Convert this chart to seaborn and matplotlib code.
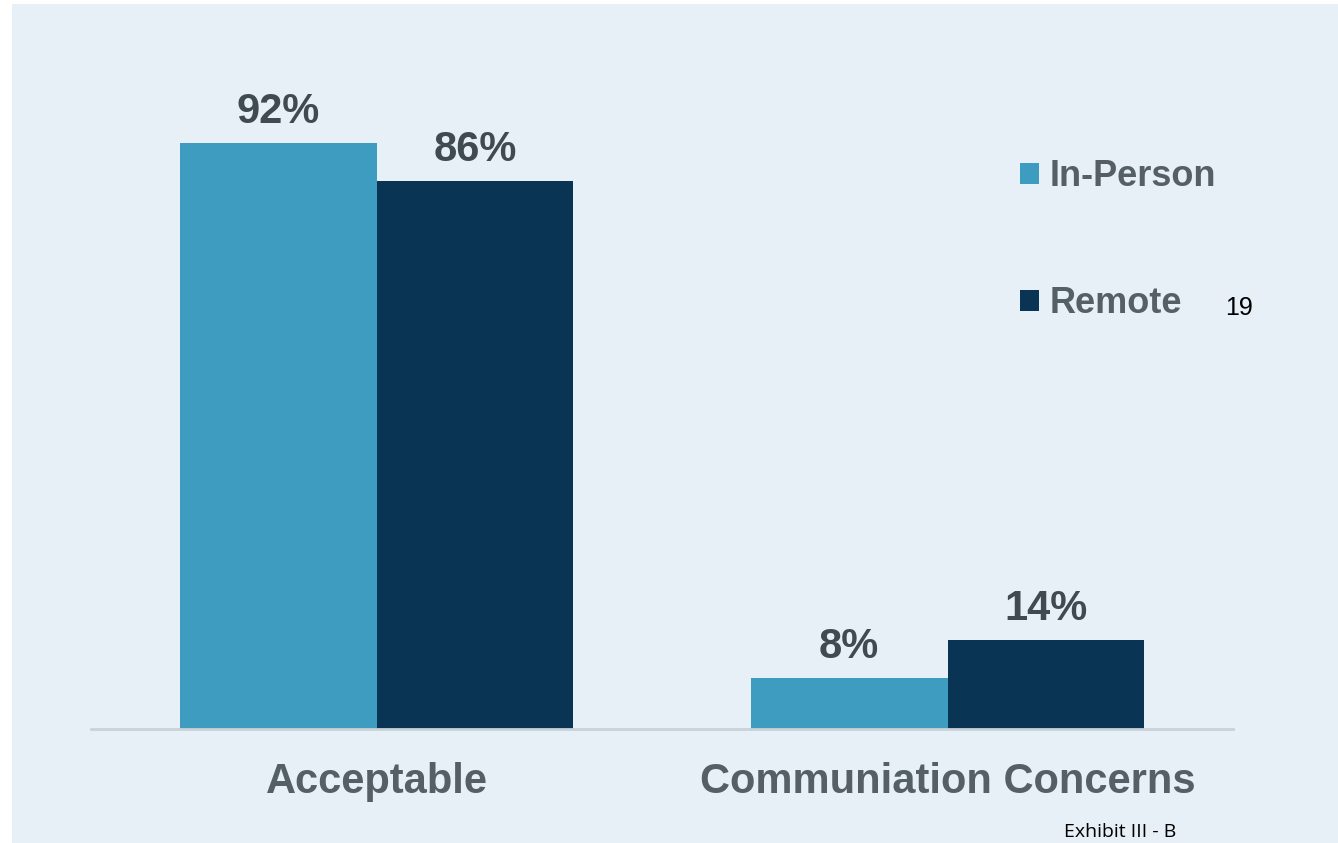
import pandas as pd
import seaborn as sns
import matplotlib.pyplot as plt
from matplotlib.patches import Rectangle

# Values
categories = ['Acceptable', 'Communiation Concerns']
modes = ['In-Person', 'Remote']
in_person = [92, 8]
remote = [86, 14]

df = pd.DataFrame({
    'category': categories * 2,
    'mode': [modes[0]] * 2 + [modes[1]] * 2,
    'value': in_person + remote,
})

colors = {'In-Person': '#3F9CC1', 'Remote': '#093453'}
bg = '#E6F0F6'
tick_color = '#555F66'
label_color = '#404A51'

plt.rcParams['font.family'] = ['Liberation Sans', 'DejaVu Sans']

fig = plt.figure(figsize=(13.38, 8.43), dpi=100, facecolor='white')
# light blue panel behind everything (slight white margin top/left)
fig.patches.append(Rectangle((12 / 1338, 0), 1, 1 - 4 / 843, transform=fig.transFigure,
                             facecolor=bg, edgecolor='none', zorder=-10))

ax = fig.add_axes([91 / 1338, 1 - 729 / 843, (1233 - 91) / 1338, (729 - 59) / 843])
ax.set_facecolor('none')

sns.barplot(data=df, x='category', y='value', hue='mode', order=categories,
            hue_order=modes, palette=colors, width=0.689, gap=0, linewidth=0,
            saturation=1, ax=ax)

ax.set_xlim(-0.5, 1.5)
ax.set_ylim(0, 105.2)

for cont in ax.containers:
    ax.bar_label(cont, labels=[f'{v:.0f}%' for v in cont.datavalues], padding=8,
                 fontsize=30, fontweight='bold', color=label_color)

for side in ['top', 'right', 'left']:
    ax.spines[side].set_visible(False)
ax.spines['bottom'].set_color('#C8D2D8')
ax.spines['bottom'].set_linewidth(2)
ax.set_yticks([])
ax.tick_params(axis='x', length=0, pad=24, labelsize=30, labelcolor=tick_color)
for t in ax.get_xticklabels():
    t.set_fontweight('bold')
ax.set_xlabel('')
ax.set_ylabel('')

# legend
handles, labels = ax.get_legend_handles_labels()
ax.get_legend().remove()
leg = fig.legend(handles, labels, loc='upper left',
                 bbox_to_anchor=(1020 / 1338, 1 - 159 / 843), frameon=False,
                 borderpad=0, borderaxespad=0, fontsize=26, labelspacing=2.55,
                 handlelength=0.53, handleheight=0.53, handletextpad=0.28,
                 prop={'weight': 'bold', 'size': 26})
for txt in leg.get_texts():
    txt.set_color(tick_color)

# slide number and exhibit tag
fig.text(1225 / 1338, 1 - 315 / 843, '19', fontsize=18, color='black',
         ha='left', va='baseline')
fig.text(1064 / 1338, 1 - 837 / 843, 'Exhibit III - B', fontsize=14, color='black',
         family=['Open Sans', 'DejaVu Sans'], ha='left', va='baseline')

fig.savefig('out.png', dpi=100, facecolor='white')
